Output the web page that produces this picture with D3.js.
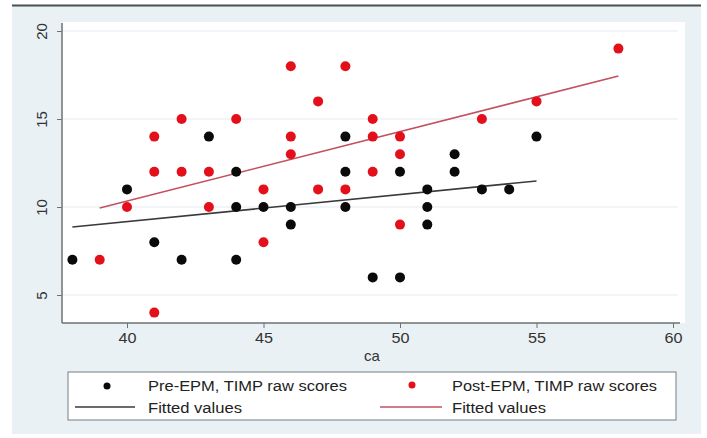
<!DOCTYPE html>
<html><head><meta charset="utf-8">
<script src="https://cdn.jsdelivr.net/npm/d3@7"></script>
<style>body{margin:0;background:#fff}svg{display:block}text{font-family:"Liberation Sans",Arial,sans-serif}</style>
</head><body><svg id="c" width="707" height="438"></svg>
<script>
const preX = [38,40,41,42,43,44,44,44,45,46,46,48,48,48,49,50,50,51,51,51,52,52,53,54,55];
const preY = [7,11,8,7,14,12,10,7,10,10,9,14,12,10,6,12,6,11,10,9,13,12,11,11,14];
const postX = [39,40,41,41,41,42,42,43,43,44,45,45,46,46,46,47,47,48,48,49,49,49,50,50,50,53,55,58];
const postY = [7,10,14,12,4,15,12,12,10,15,11,8,18,14,13,16,11,18,11,15,14,12,14,13,9,15,16,19];
const preFitX = [38,55], preFitY = [8.86,11.48];
const postFitX = [39,58], postFitY = [9.94,17.44];
const xTicks = [40,45,50,55,60];
const yTicks = [5,10,15,20];
const xLabel = "ca";
const legendLabels = ["Pre-EPM, TIMP raw scores","Post-EPM, TIMP raw scores","Fitted values","Fitted values"];

const svg = d3.select("#c");
// graph region
svg.append("rect").attr("x",12).attr("y",6).attr("width",689).attr("height",428).attr("fill","#eaf1f4");
svg.append("line").attr("x1",12).attr("x2",701).attr("y1",5.5).attr("y2",5.5).attr("stroke","#4a4f52").attr("stroke-width",2);
// plot region
svg.append("rect").attr("x",62).attr("y",22).attr("width",623).attr("height",301).attr("fill","#fff");

const x = d3.scaleLinear().domain([40,60]).range([127,673]);
const y = d3.scaleLinear().domain([10,20]).range([207,31]);

// gridlines
svg.append("g").selectAll("line").data(yTicks).join("line")
  .attr("x1",63).attr("x2",678).attr("y1",d=>y(d)).attr("y2",d=>y(d))
  .attr("stroke","#eef2f4").attr("stroke-width",1.5);

// axes
const xa = svg.append("g").attr("transform","translate(0,323)")
  .call(d3.axisBottom(x).tickValues(xTicks).tickSize(5).tickPadding(4));
xa.select(".domain").attr("d","M62,0H680").attr("stroke","#6b7275").attr("stroke-width",1.5);
xa.selectAll(".tick line").attr("stroke","#6b7275");
xa.selectAll("text").attr("font-size",15).attr("fill","#333")
  .attr("textLength",18).attr("lengthAdjust","spacingAndGlyphs");

const ya = svg.append("g").attr("transform","translate(62,0)")
  .call(d3.axisLeft(y).tickValues(yTicks).tickSize(5).tickPadding(4));
ya.select(".domain").attr("d","M0,23V323").attr("stroke","#6b7275").attr("stroke-width",1.5);
ya.selectAll(".tick line").attr("stroke","#6b7275");
ya.selectAll("text").attr("font-size",15).attr("fill","#333")
  .attr("text-anchor","middle").attr("dy",0)
  .attr("transform","rotate(-90) translate(0,-15.5)").attr("x",0).attr("y",0);

svg.append("text").attr("x",372).attr("y",361).attr("text-anchor","middle")
  .attr("font-size",15).attr("fill","#333").text(xLabel);

// fitted lines
const line = d3.line().x(d=>x(d[0])).y(d=>y(d[1]));
svg.append("path").datum(preFitX.map((v,i)=>[v,preFitY[i]])).attr("d",line)
  .attr("fill","none").attr("stroke","#3a3a3a").attr("stroke-width",1.6);
svg.append("path").datum(postFitX.map((v,i)=>[v,postFitY[i]])).attr("d",line)
  .attr("fill","none").attr("stroke","#c2505e").attr("stroke-width",1.6);

// points
svg.append("g").selectAll("circle").data(preX.map((v,i)=>[v,preY[i]])).join("circle")
  .attr("cx",d=>x(d[0])).attr("cy",d=>y(d[1])).attr("r",5).attr("fill","#0a0a0a");
svg.append("g").selectAll("circle").data(postX.map((v,i)=>[v,postY[i]])).join("circle")
  .attr("cx",d=>x(d[0])).attr("cy",d=>y(d[1])).attr("r",5).attr("fill","#e3101c");

// legend
const lg = svg.append("g");
lg.append("rect").attr("x",68).attr("y",372).attr("width",608).attr("height",48)
  .attr("fill","#fff").attr("stroke","#8a9296").attr("stroke-width",1.2);
lg.append("circle").attr("cx",107).attr("cy",386).attr("r",3.5).attr("fill","#0a0a0a");
lg.append("circle").attr("cx",412).attr("cy",385).attr("r",3.5).attr("fill","#e3101c");
lg.append("line").attr("x1",75).attr("x2",135).attr("y1",407).attr("y2",407).attr("stroke","#3a3a3a").attr("stroke-width",1.6);
lg.append("line").attr("x1",380).attr("x2",442).attr("y1",407).attr("y2",407).attr("stroke","#c2505e").attr("stroke-width",1.6);
const lpos = [[148,386],[452,386],[148,408],[452,408]];
const lwid = [199,205,94,94];
lg.selectAll("text").data(legendLabels).join("text")
  .attr("x",(d,i)=>lpos[i][0]).attr("y",(d,i)=>lpos[i][1]).attr("dy","0.35em")
  .attr("font-size",14).attr("fill","#222")
  .attr("textLength",(d,i)=>lwid[i]).attr("lengthAdjust","spacingAndGlyphs").text(d=>d);
</script></body></html>
